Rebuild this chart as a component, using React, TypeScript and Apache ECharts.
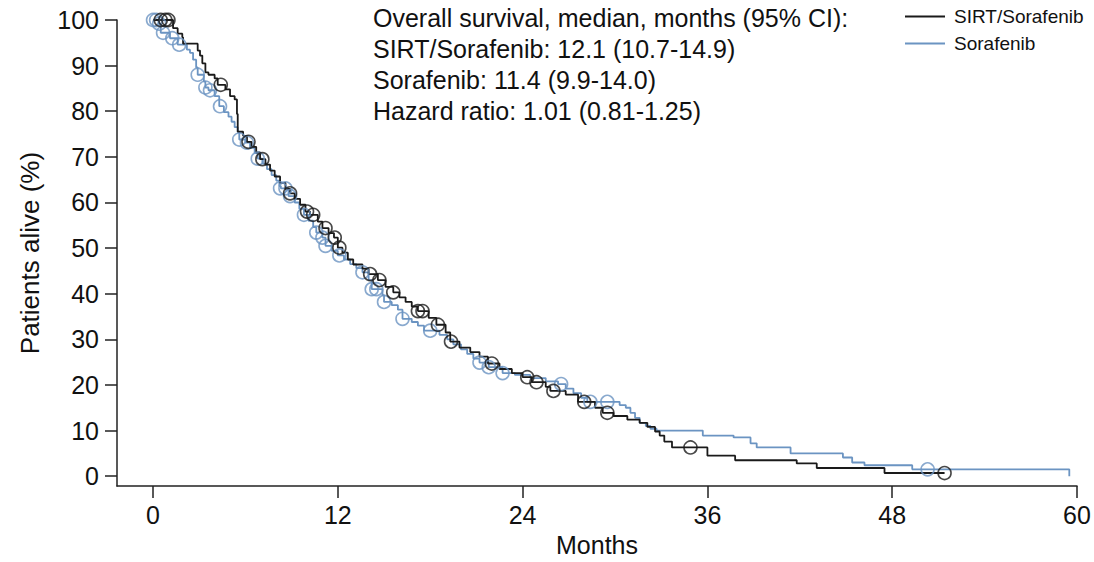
import React, { useEffect, useRef } from "react";
import * as echarts from "echarts";

const xTicks = [0, 12, 24, 36, 48, 60];
const yTicks = [0, 10, 20, 30, 40, 50, 60, 70, 80, 90, 100];

const sirtSteps: [number, number][] = [
  [0, 100], [1.3, 98.2], [1.6, 97], [1.9, 96.2], [1.95, 94.8], [2.9, 93.3], [3.05, 92.2], [3.2, 90.5],
  [3.4, 88.5], [3.6, 88], [4.0, 87.2], [4.2, 85.8], [4.7, 84.8], [5.0, 83.3], [5.3, 82.6], [5.45, 79.4],
  [5.5, 75.5], [5.85, 74.6], [6.1, 73.3], [6.4, 72.2], [6.7, 71], [6.95, 69.5], [7.3, 68.3], [7.6, 67],
  [7.9, 65.7], [8.25, 64.3], [8.6, 63], [8.9, 62], [9.2, 60.8], [9.55, 59.5], [9.9, 58], [10.2, 57.3],
  [10.7, 55.8], [11.0, 54.4], [11.4, 53.3], [11.75, 52.3], [12.0, 50.1], [12.3, 49], [12.65, 47.5],
  [13.0, 46.4], [13.6, 45.5], [14.0, 44.3], [14.6, 43], [15.1, 41.5], [15.6, 40.3], [16.0, 39.2],
  [16.4, 38.2], [16.8, 37.2], [17.2, 36.2], [17.9, 34.7], [18.4, 33.2], [19.0, 31.5], [19.3, 29.5],
  [19.9, 28.2], [20.6, 27.2], [21.2, 26.2], [21.75, 24.7], [22.5, 23.5], [23.3, 22.6], [24.0, 21.7],
  [24.6, 20.6], [25.5, 19.6], [25.8, 18.7], [26.8, 17.9], [27.6, 16.3], [28.7, 15], [29.2, 13.9],
  [29.9, 13.2], [30.8, 12.4], [31.6, 11.7], [32.1, 10.8], [32.6, 9.8], [32.9, 8.9], [33.2, 7.6],
  [33.7, 6.3], [36.0, 4.5], [37.8, 3.5], [41.8, 2.8], [43.1, 1.8], [47.5, 0.7], [51.4, 0.7],
];

const sirtCensored: [number, number][] = [
  [0.5, 100], [0.8, 100], [1.0, 100], [4.4, 85.8], [6.2, 73.3], [7.1, 69.5], [8.9, 62], [10.0, 58],
  [10.4, 57.3], [11.2, 54.4], [11.8, 52.3], [12.1, 50.1], [14.1, 44.3], [14.7, 43], [15.6, 40.3],
  [17.2, 36.2], [17.5, 36.2], [18.5, 33.2], [19.35, 29.5], [22.0, 24.7], [24.3, 21.7], [24.9, 20.6],
  [26.0, 18.7], [28.0, 16.3], [29.5, 13.9], [34.9, 6.3], [51.4, 0.7],
];

const sorafenibSteps: [number, number][] = [
  [0, 100], [0.35, 99.2], [0.5, 97.2], [1.1, 96], [1.6, 94.6], [2.2, 93.5], [2.4, 92.8], [2.6, 91.3],
  [2.8, 89.6], [2.9, 88], [3.3, 86.5], [3.4, 85.2], [3.6, 84.6], [4.0, 83.3], [4.3, 81.1], [4.6, 79.8],
  [4.9, 78.8], [5.1, 77.7], [5.3, 76.5], [5.5, 75.5], [5.6, 73.8], [6.0, 73.1], [6.3, 72], [6.6, 70.8],
  [6.8, 69.6], [7.1, 68.5], [7.4, 67.3], [7.7, 66], [8.0, 64.8], [8.2, 63.6], [8.3, 63.1], [8.8, 61.4],
  [9.2, 60], [9.5, 58.6], [9.8, 57.3], [10.1, 56], [10.4, 54.6], [10.6, 53.4], [11.0, 52.3], [11.2, 50.5],
  [11.6, 49.4], [12.0, 48.4], [12.4, 47.5], [12.8, 46.5], [13.2, 45.6], [13.6, 44.7], [14.0, 43],
  [14.2, 41], [14.9, 39.7], [15.0, 38.2], [15.5, 37.5], [15.9, 36.5], [16.2, 34.5], [16.8, 33.8],
  [17.2, 33], [17.6, 31.9], [18.6, 31], [19.1, 30], [19.5, 28.9], [20.0, 27.8], [20.4, 26.8],
  [20.8, 25.8], [21.2, 24.9], [21.8, 23.9], [22.7, 22.6], [23.5, 22.2], [24.5, 21.5], [25.5, 20.8],
  [26.3, 20.2], [26.8, 19.2], [27.3, 18.2], [27.8, 17.2], [28.2, 16.3], [30.3, 15.6], [30.7, 15],
  [31.0, 13.9], [31.3, 12.8], [31.6, 11.7], [32.0, 11], [32.3, 10.4], [32.7, 10], [35.7, 8.9],
  [37.7, 8.5], [38.8, 7.2], [39.2, 6.3], [41.4, 5], [44.8, 4.1], [45.4, 3.0], [46.2, 2.4], [49.3, 1.5],
  [59.5, 1.5], [59.5, 0],
];

const sorafenibCensored: [number, number][] = [
  [0, 100], [0.2, 100], [0.4, 99.2], [0.65, 97.2], [1.25, 96], [1.7, 94.6], [2.9, 88], [3.4, 85.2],
  [3.7, 84.6], [4.35, 81.1], [5.6, 73.8], [6.1, 73.1], [6.8, 69.6], [8.25, 63.1], [8.6, 63.1],
  [8.9, 61.4], [9.8, 57.3], [10.6, 53.4], [11.0, 52.3], [11.2, 50.5], [12.1, 48.4], [13.6, 44.7],
  [14.2, 41], [14.5, 41], [15.0, 38.2], [16.2, 34.5], [18.0, 31.9], [21.2, 24.9], [21.8, 23.9],
  [22.7, 22.6], [26.5, 20.2], [28.4, 16.3], [29.5, 16.3], [50.3, 1.5],
];

const annotationLines = [
  "Overall survival, median, months (95% CI):",
  "SIRT/Sorafenib: 12.1 (10.7-14.9)",
  "Sorafenib: 11.4 (9.9-14.0)",
  "Hazard ratio: 1.01 (0.81-1.25)",
];

const BLACK = "#1a1a1a";
const BLUE = "#6b94c2";
const FONT = "'Liberation Sans', Arial, sans-serif";

export default function App() {
  const ref = useRef<HTMLDivElement>(null);
  useEffect(() => {
    if (!ref.current) return;
    const chart = echarts.init(ref.current, null, { renderer: "svg" });
    const axisLine = { show: true, onZero: false, lineStyle: { color: "#222", width: 1.5 } };
    chart.setOption({
      animation: false,
      backgroundColor: "#fff",
      textStyle: { fontFamily: FONT },
      grid: { left: 117, right: 17, top: 20, bottom: 71, containLabel: false },
      xAxis: {
        type: "value",
        min: -2.34,
        max: 60,
        name: "Months",
        nameLocation: "middle",
        nameGap: 44,
        nameTextStyle: { fontSize: 25, color: "#111", fontFamily: FONT },
        axisLine,
        axisTick: { show: true, length: 12, inside: false, customValues: xTicks, lineStyle: { color: "#222", width: 1.5 } },
        axisLabel: { customValues: xTicks, fontSize: 25, color: "#111", margin: 16, fontFamily: FONT },
        splitLine: { show: false },
      },
      yAxis: {
        type: "value",
        min: -2.17,
        max: 100,
        name: "Patients alive (%)",
        nameLocation: "middle",
        nameGap: 74,
        nameTextStyle: { fontSize: 26, color: "#111", fontFamily: FONT },
        axisLine,
        axisTick: { show: true, length: 12, inside: false, customValues: yTicks, lineStyle: { color: "#222", width: 1.5 } },
        axisLabel: { customValues: yTicks, fontSize: 25, color: "#111", margin: 18, fontFamily: FONT },
        splitLine: { show: false },
      },
      legend: {
        data: ["SIRT/Sorafenib", "Sorafenib"],
        orient: "vertical",
        left: 900,
        top: 2,
        icon: "rect",
        itemWidth: 40,
        itemHeight: 2,
        itemGap: 8,
        textStyle: { fontSize: 19, color: "#111", fontFamily: FONT, padding: [0, 0, 0, 4] },
      },
      graphic: annotationLines.map((t, i) => ({
        type: "text",
        left: 373,
        top: 5 + i * 31,
        style: { text: t, fontSize: 25, fill: "#111", fontFamily: FONT },
      })),
      series: [
        {
          name: "SIRT/Sorafenib",
          type: "line",
          step: "end",
          data: sirtSteps,
          showSymbol: false,
          symbol: "none",
          clip: false,
          lineStyle: { color: BLACK, width: 1.8 },
          itemStyle: { color: BLACK },
          z: 3,
        },
        {
          name: "Sorafenib",
          type: "line",
          step: "end",
          data: sorafenibSteps,
          showSymbol: false,
          symbol: "none",
          clip: false,
          lineStyle: { color: BLUE, width: 1.8 },
          itemStyle: { color: BLUE },
          z: 2,
        },
        {
          name: "SIRT/Sorafenib censored",
          type: "scatter",
          data: sirtCensored,
          symbol: "circle",
          symbolSize: 13,
          clip: false,
          itemStyle: { color: "rgba(0,0,0,0)", borderColor: BLACK, borderWidth: 1.6 },
          z: 4,
        },
        {
          name: "Sorafenib censored",
          type: "scatter",
          data: sorafenibCensored,
          symbol: "circle",
          symbolSize: 13,
          clip: false,
          itemStyle: { color: "rgba(0,0,0,0)", borderColor: BLUE, borderWidth: 1.6 },
          z: 3,
        },
      ],
    });
    return () => chart.dispose();
  }, []);
  return (
    <div
      ref={ref}
      style={{ position: "fixed", left: 0, top: 0, width: 1094, height: 562, background: "#fff" }}
    />
  );
}
